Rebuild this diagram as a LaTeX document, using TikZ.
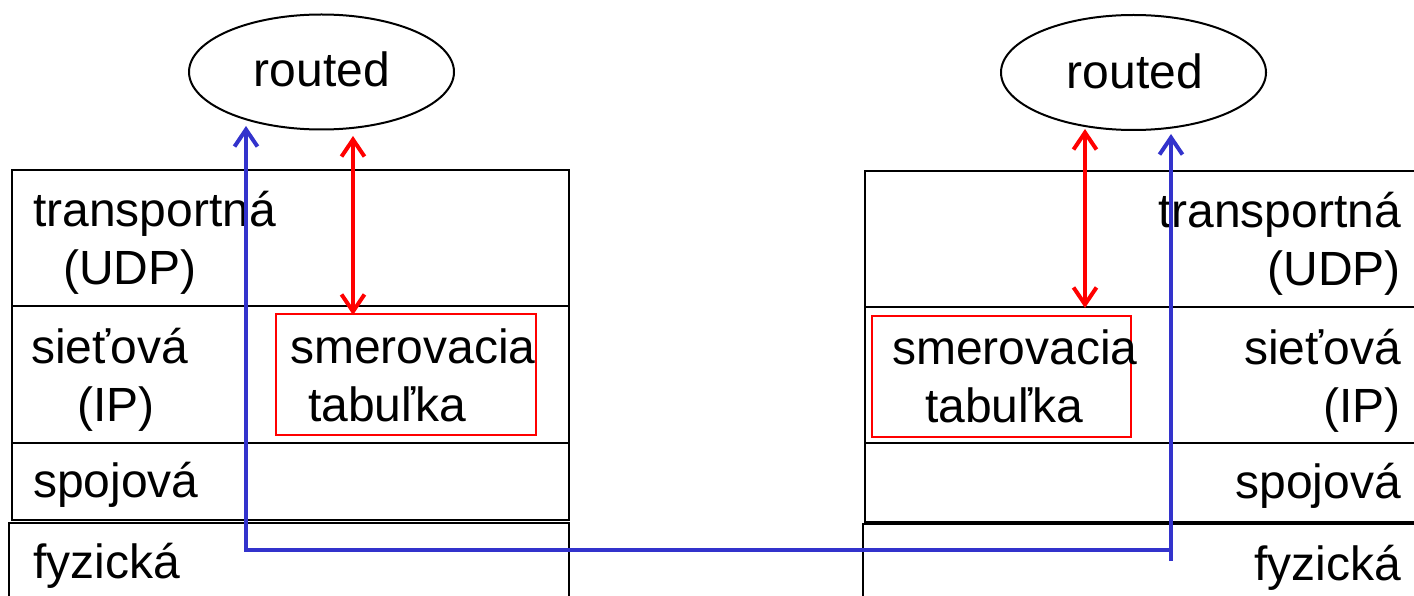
\documentclass[tikz,border=0pt]{standalone}
\usepackage{fontspec}
\setmainfont{Liberation Sans}
\usetikzlibrary{arrows.meta,shapes.geometric}
\definecolor{lineblue}{RGB}{51,51,204}
\begin{document}
\begin{tikzpicture}[x=1pt,y=-1pt,
  >={Straight Barb[length=17pt,width=23pt]},
  layerbox/.style={draw=black,line width=2.6pt},
  lbl/.style={inner sep=0pt,font=\fontsize{48}{57}\selectfont},
  tablebox/.style={draw=red,line width=2pt,inner sep=0pt},
  proc/.style={draw=black,line width=2pt,ellipse,inner sep=0pt,
    minimum width=265pt,minimum height=115pt},
  redarrow/.style={draw=red,line width=4pt},
  bluearrow/.style={draw=lineblue,line width=4pt}
]
\useasboundingbox (0,0) rectangle (1414,596);
\clip (0,0) rectangle (1414,596);

% ---- left host stack
\draw[layerbox] (12,170) rectangle (569,306);
\draw[layerbox] (12,306) rectangle (569,443);
\draw[layerbox] (12,443) rectangle (569,520);
\draw[layerbox] (9,523) rectangle (569,620);

% ---- right host stack
\draw[layerbox] (865,171) rectangle (1430,307);
\draw[layerbox] (865,307) rectangle (1430,443);
\draw[layerbox] (865,443) rectangle (1430,522);
\draw[layerbox] (863,524) rectangle (1430,620);

% ---- routing tables
\node[tablebox,minimum width=260pt,minimum height=121pt] (ltab) at (406,374.5) {};
\node[tablebox,minimum width=259pt,minimum height=121pt] (rtab) at (1001.5,376.5) {};

% ---- routed processes
\node[proc] (lrouted) at (321.5,72) {};
\node[proc] (rrouted) at (1133.5,72.5) {};
\node[lbl,anchor=base] (lroutedt) at (322,87) {routed};
\node[lbl,anchor=base] (rroutedt) at (1135,89) {routed};

% ---- left labels
\node[lbl,anchor=base west] (ltr)  at (33,227) {transportná};
\node[lbl,anchor=base west] (ludp) at (63,284) {(UDP)};
\node[lbl,anchor=base west] (lnet) at (31,363) {sieťová};
\node[lbl,anchor=base west] (lip)  at (77,421) {(IP)};
\node[lbl,anchor=base west] (llnk) at (33,497) {spojová};
\node[lbl,anchor=base west] (lphy) at (33,578) {fyzická};
\node[lbl,anchor=base west] (lsm)  at (290,363) {smerovacia};
\node[lbl,anchor=base west] (ltb)  at (308,421) {tabuľka};

% ---- right labels
\node[lbl,anchor=base east] (rtr)  at (1401,228) {transportná};
\node[lbl,anchor=base east] (rudp) at (1401,285) {(UDP)};
\node[lbl,anchor=base east] (rnet) at (1401,364) {sieťová};
\node[lbl,anchor=base east] (rip)  at (1401,422) {(IP)};
\node[lbl,anchor=base east] (rlnk) at (1401,498) {spojová};
\node[lbl,anchor=base east] (rphy) at (1401,580) {fyzická};
\node[lbl,anchor=base west] (rsm)  at (892,364) {smerovacia};
\node[lbl,anchor=base west] (rtb)  at (925,422) {tabuľka};

% ---- connector end points
\coordinate (lredtop) at (353,136);
\coordinate (lredbot) at (353,315);
\coordinate (rredtop) at (1085,129);
\coordinate (rredbot) at (1085,308);
\coordinate (lbluetop) at (246,126);
\coordinate (rbluetop) at (1171,134);
\coordinate (bluecorner) at (1171,550);
\coordinate (bluestub) at (1171,561);

% ---- connectors
\draw[redarrow,<->] (lredtop) -- (lredbot);
\draw[redarrow,<->] (rredtop) -- (rredbot);
\draw[bluearrow,<-] (lbluetop) |- (bluecorner);
\draw[bluearrow,->] (bluestub) -- (rbluetop);
\end{tikzpicture}
\end{document}
